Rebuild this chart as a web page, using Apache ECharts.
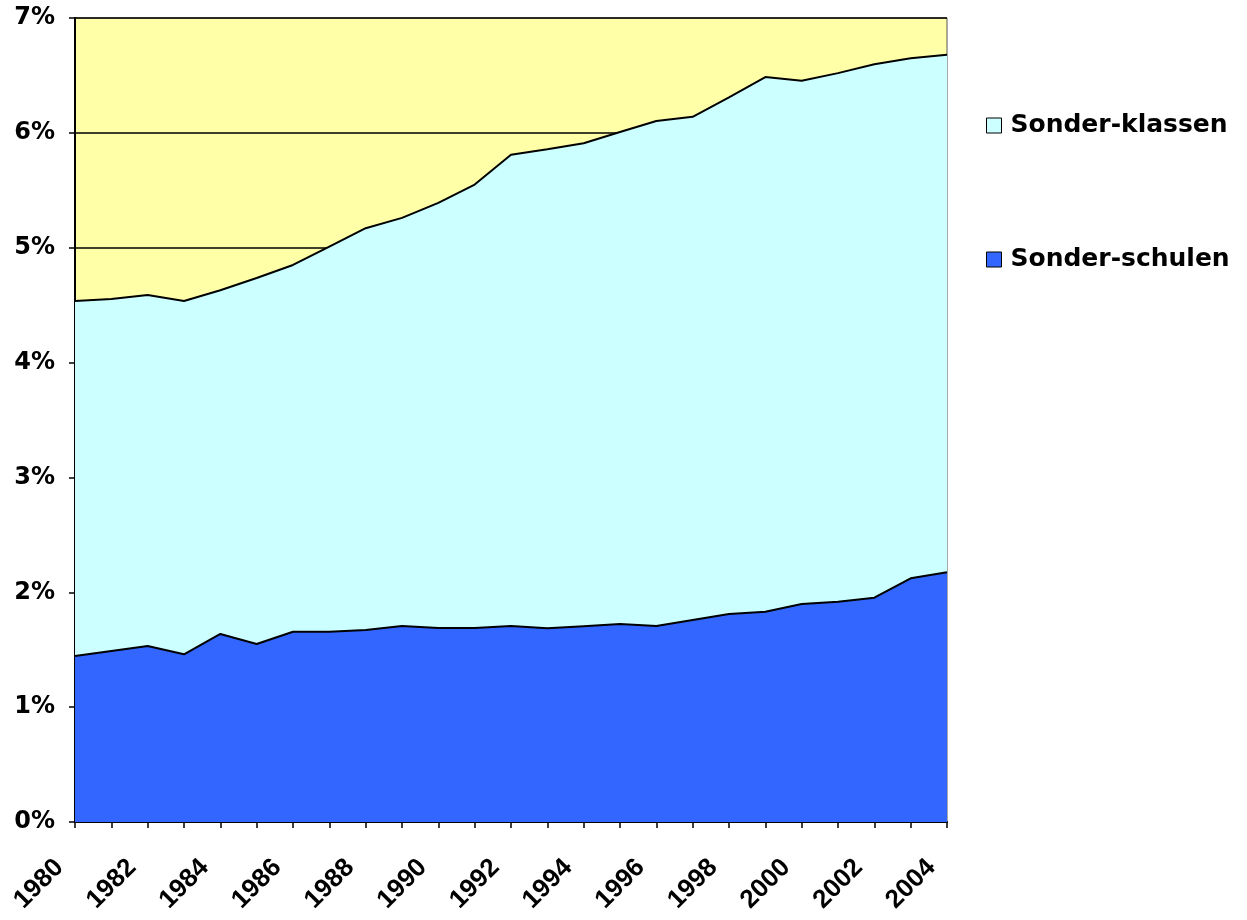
<!DOCTYPE html>
<html>
<head>
<meta charset="utf-8">
<script src="https://cdn.jsdelivr.net/npm/echarts@6/dist/echarts.min.js"></script>
<style>html,body{margin:0;padding:0;background:#fff;}#c{width:1247px;height:920px;}</style>
</head>
<body>
<div id="c"></div>
<script>
const years = ['1980','1981','1982','1983','1984','1985','1986','1987','1988','1989','1990','1991','1992','1993','1994','1995','1996','1997','1998','1999','2000','2001','2002','2003','2004'];
// Sonder-schulen (% share)
const sonderschulen = [1.445,1.489,1.532,1.460,1.637,1.550,1.657,1.657,1.672,1.706,1.689,1.689,1.706,1.686,1.705,1.724,1.706,1.759,1.811,1.831,1.898,1.918,1.953,2.122,2.174];
// Total (Sonder-schulen + Sonder-klassen)
const total = [4.536,4.553,4.588,4.536,4.630,4.736,4.850,5.010,5.170,5.260,5.390,5.550,5.810,5.858,5.910,6.007,6.103,6.140,6.308,6.486,6.454,6.520,6.597,6.650,6.680];
const sonderklassen = total.map((t, i) => +(t - sonderschulen[i]).toFixed(3));
const yTicks = [0,1,2,3,4,5,6,7];

const chart = echarts.init(document.getElementById('c'));
const font = 'Liberation Sans, Arial, sans-serif';
const wide = 'DejaVu Sans, sans-serif';
chart.setOption({
  animation: false,
  grid: { left: 75, right: 300, top: 18, bottom: 98, show: true, backgroundColor: '#FFFFA8', borderColor: '#555', borderWidth: 1 },
  legend: {
    orient: 'vertical', left: 981, top: 108, itemGap: 109,
    itemWidth: 15, itemHeight: 15, icon: 'rect',
    textStyle: { fontFamily: wide, fontWeight: 'bold', fontSize: 25, color: '#000', padding: [0, 0, 0, 4] },
    data: [
      { name: 'Sonder-klassen', itemStyle: { borderColor: '#000', borderWidth: 1 } },
      { name: 'Sonder-schulen', itemStyle: { borderColor: '#000', borderWidth: 1 } }
    ]
  },
  xAxis: {
    type: 'category', data: years, boundaryGap: false,
    axisLine: { lineStyle: { color: '#000', width: 2 } },
    axisTick: { show: true, interval: 0, length: 6, lineStyle: { color: '#000', width: 1.5 } },
    axisLabel: { interval: 1, rotate: 45, fontFamily: font, fontWeight: 'bold', fontSize: 26, color: '#000', margin: 26, padding: [0, 22, 0, 0] },
    splitLine: { show: false }
  },
  yAxis: {
    type: 'value', min: 0, max: 7, interval: 1,
    axisLine: { show: true, lineStyle: { color: '#000', width: 2 } },
    axisTick: { show: true, length: 6, lineStyle: { color: '#000', width: 1.5 } },
    axisLabel: { fontFamily: wide, fontWeight: 'bold', fontSize: 24, color: '#000', margin: 20, formatter: v => yTicks.includes(v) ? v + '%' : '' },
    splitLine: { show: true, lineStyle: { color: '#000', width: 1.5 } }
  },
  series: [
    {
      name: 'Sonder-schulen', type: 'line', stack: 'a', data: sonderschulen,
      symbol: 'none', lineStyle: { color: '#000', width: 2 },
      itemStyle: { color: '#3366FF' },
      areaStyle: { color: '#3366FF', opacity: 1 }
    },
    {
      name: 'Sonder-klassen', type: 'line', stack: 'a', data: sonderklassen,
      symbol: 'none', lineStyle: { color: '#000', width: 2 },
      itemStyle: { color: '#CCFFFF' },
      areaStyle: { color: '#CCFFFF', opacity: 1 }
    }
  ]
});
</script>
</body>
</html>
